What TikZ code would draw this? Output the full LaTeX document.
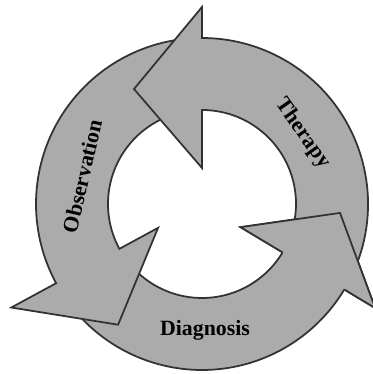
\documentclass[tikz,border=0pt]{standalone}
\usepackage{fontspec}
\setmainfont{Liberation Serif}
\definecolor{ringfill}{RGB}{171,171,171}
\definecolor{ringline}{RGB}{50,50,50}

\def\rin{94}
\def\rout{166}

\begin{document}
\begin{tikzpicture}[x=0.02cm,y=0.02cm,line width=1pt,line join=miter]
    \tikzstyle{cycle arrow}=[fill=ringfill,draw=ringline]
    \tikzstyle{head fill}=[fill=ringfill]
    \tikzstyle{label}=[font=\bfseries\fontsize{12.4}{14}\selectfont,inner sep=0pt]

    \useasboundingbox (-202,-170) rectangle (170,204);

    % Draw the three arrows: tail / head angle, outer and inner wing, tip
    \foreach \from / \to / \wout / \win / \tipa / \tipr in
        {217/329/202/45/356.3/138.3, 96/208.5/217/50/235.2/147, -26/90/197/36/120.6/133.6}
        \path[cycle arrow] (\from:\rout) arc[start angle=\from, end angle=\to, radius=\rout]
            -- (\to:\wout) -- (\tipa:\tipr) -- (\to:\win) -- (\to:\rin)
            arc[start angle=\to, end angle=\from, radius=\rin] -- cycle;

    % The diagnosis head lies on top of the therapy tail
    \fill[head fill] (329:202) -- (356.3:138.3) -- (329:45) -- cycle;
    \draw[draw=ringline] (329:\rout) -- (329:202) -- (356.3:138.3) -- (329:45) -- (329:\rin);

    % Annotate the arrows
    \node[label,rotate=-55] (therapy) at (35:123) {Therapy};
    \node[label,rotate=77] (observation) at (167:123) {Observation};
    \node[label] (diagnosis) at (3,-126) {Diagnosis};
\end{tikzpicture}
\end{document}
